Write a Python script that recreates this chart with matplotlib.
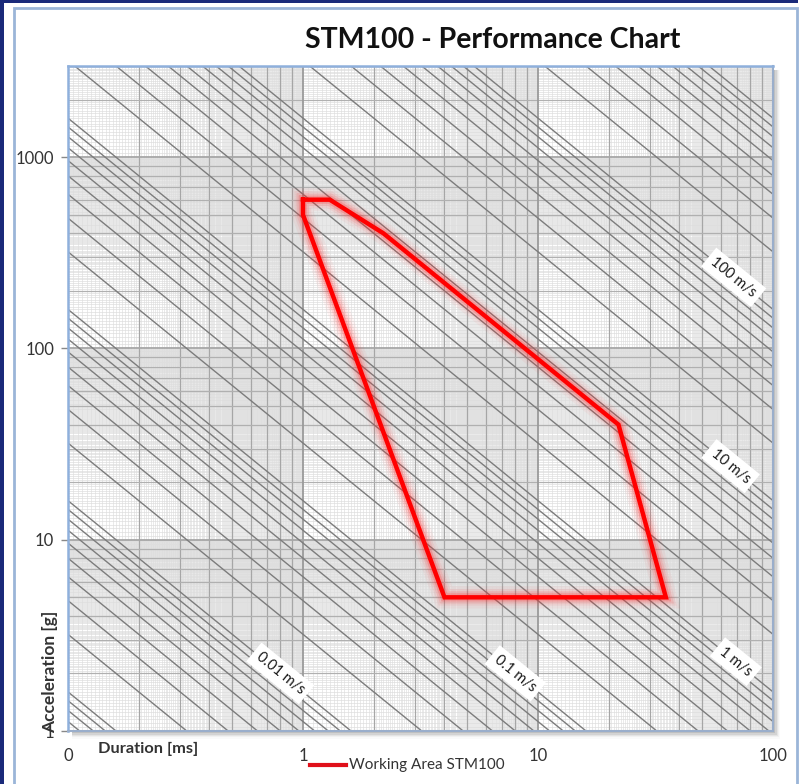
import numpy as np
import matplotlib.pyplot as plt
from matplotlib.patches import Rectangle

W, H, DPI = 803, 784, 100

# working area of the STM100 (duration in ms, acceleration in g)
area_t = [1.0, 1.3, 2.2, 22, 35, 4, 1.0, 1.0]
area_a = [600, 600, 400, 40, 5, 5, 500, 600]

# constant velocity-change lines (half sine), m/s
vel_decades = [1e-4, 1e-3, 1e-2, 1e-1, 1, 10, 100, 1000]
vel_steps = [1, 2, 3, 4, 5, 6, 7, 8, 9]

label_vel = [100, 10, 1, 0.1, 0.01]
label_text = ["100 m/s", "10 m/s", "1 m/s", "0.1 m/s", "0.01 m/s"]
label_t = [68, 66, 69.5, 8.0, 0.8]

x_ticks = [0.1, 1, 10, 100]
x_ticklabels = ["0", "1", "10", "100"]
y_ticks = [1, 10, 100, 1000]
y_ticklabels = ["1", "10", "100", "1000"]

G = 9.81
HALF_SINE = 2 / np.pi
XMIN, XMAX = 0.1, 100
YMIN, YMAX = 1, 3000

FONT = ["Lato", "DejaVu Sans"]
plt.rcParams["font.family"] = FONT


def accel(v, t_ms):
    return v * 1000.0 / (HALF_SINE * G * np.asarray(t_ms))


def fx(px):
    return px / W


def fy(py):
    return 1 - py / H


fig = plt.figure(figsize=(W / DPI, H / DPI), dpi=DPI)
fig.patch.set_facecolor("white")

# outer frame bits
fig.add_artist(Rectangle((0, fy(2.5)), fx(798), fy(0) - fy(2.5), transform=fig.transFigure,
                         color="#1a2a7a", lw=0))
fig.add_artist(Rectangle((0, 0), fx(4), 1, transform=fig.transFigure, color="#1a2a7a", lw=0))
fig.add_artist(Rectangle((fx(14), fy(800)), fx(797) - fx(14), fy(8) - fy(800),
                         transform=fig.transFigure, fill=False, ec="#9bb5d8", lw=2))

L, R, T, B = 68, 773, 66, 731
# drop shadow of the plot area (behind the axes)
for i, a in enumerate([0.12, 0.09, 0.07, 0.05, 0.035, 0.02]):
    off = 1 + i * 1.3
    fig.add_artist(Rectangle((fx(L + 4), fy(B + off)), fx(R + off) - fx(L + 4),
                             fy(T + 4) - fy(B + off), transform=fig.transFigure,
                             color="black", alpha=a, lw=0, zorder=-5))

ax = fig.add_axes([fx(L), fy(B), fx(R) - fx(L), fy(T) - fy(B)])
ax.set_facecolor("white")
ax.set_xscale("log")
ax.set_yscale("log")
ax.set_xlim(XMIN, XMAX)
ax.set_ylim(YMIN, YMAX)

# grid: fine, intermediate, decade
for d in [0.1, 1, 10]:
    for s in np.arange(1.05, 10.0, 0.05):
        if abs(s - round(s)) > 1e-6:
            ax.axvline(d * s, color="#e2e2e2", lw=0.5, zorder=0.5)
    for s in range(2, 10):
        ax.axvline(d * s, color="#a6a6a6", lw=0.9, zorder=0.6)
for d in [1, 10, 100, 1000]:
    for s in np.arange(1.05, 10.0, 0.05):
        if abs(s - round(s)) > 1e-6 and d * s <= YMAX:
            ax.axhline(d * s, color="#dedede", lw=0.5, zorder=0.5)
    for s in range(2, 10):
        if d * s <= YMAX:
            ax.axhline(d * s, color="#b0b0b0", lw=0.9, zorder=0.6)
for v in x_ticks:
    ax.axvline(v, color="#9a9a9a", lw=1.3, zorder=0.7)
for v in y_ticks:
    ax.axhline(v, color="#a6a6a6", lw=1.3, zorder=0.7)

# velocity lines
tt = np.array([XMIN, XMAX])
for dec in vel_decades:
    for m in vel_steps:
        ax.plot(tt, accel(dec * m, tt), color="#7c7c7c", lw=1.0, zorder=1)

# working area with glow
for lw, al in [(16, 0.05), (12, 0.08), (9, 0.12), (6, 0.22)]:
    ax.plot(area_t, area_a, color="#ff2828", lw=lw, alpha=al, solid_joinstyle="miter",
            zorder=2)
ax.plot(area_t, area_a, color="#ff0000", lw=3.2, solid_joinstyle="miter", zorder=3)

# rotated velocity labels
px_dec_x = (R - L) / np.log10(XMAX / XMIN)
px_dec_y = (B - T) / np.log10(YMAX / YMIN)
ang = -np.degrees(np.arctan2(px_dec_y, px_dec_x))
for v, txt, t in zip(label_vel, label_text, label_t):
    ax.text(t, accel(v, t), txt, rotation=ang, rotation_mode="anchor", ha="center",
            va="center", fontsize=10.5, color="#1a1a1a", zorder=4,
            bbox=dict(boxstyle="square,pad=0.35", fc="white", ec="none"))

for side in ["left", "top"]:
    ax.spines[side].set_color("#8fb0dc")
    ax.spines[side].set_linewidth(1.8)
for side in ["right", "bottom"]:
    ax.spines[side].set_color("#9aaecb")
    ax.spines[side].set_linewidth(1.5)

ax.set_xticks(x_ticks)
ax.set_xticklabels(x_ticklabels)
ax.set_yticks(y_ticks)
ax.set_yticklabels(y_ticklabels)
ax.minorticks_off()
ax.tick_params(axis="x", length=0, pad=12, labelsize=12, labelcolor="#333333")
ax.tick_params(axis="y", length=5, width=1, color="#888888", pad=5, labelsize=12,
               labelcolor="#333333")

fig.text(fx(493), fy(40), "STM100 - Performance Chart", ha="center", va="center",
         fontsize=20.5, fontweight="bold", color="#111111")
fig.text(fx(98), fy(749), "Duration [ms]", ha="left", va="center", fontsize=11.8,
         fontweight="bold", color="#333333")
fig.text(fx(50), fy(733), "Acceleration [g]", ha="center", va="bottom", rotation=90,
         fontsize=12.5, fontweight="bold", color="#333333")

# legend
fig.add_artist(plt.Line2D([fx(310), fx(346)], [fy(765), fy(765)], transform=fig.transFigure,
                          color="#e0101a", lw=3))
fig.text(fx(349), fy(765), "Working Area STM100", ha="left", va="center", fontsize=11,
         color="#333333")

fig.savefig("out.png", dpi=DPI)
